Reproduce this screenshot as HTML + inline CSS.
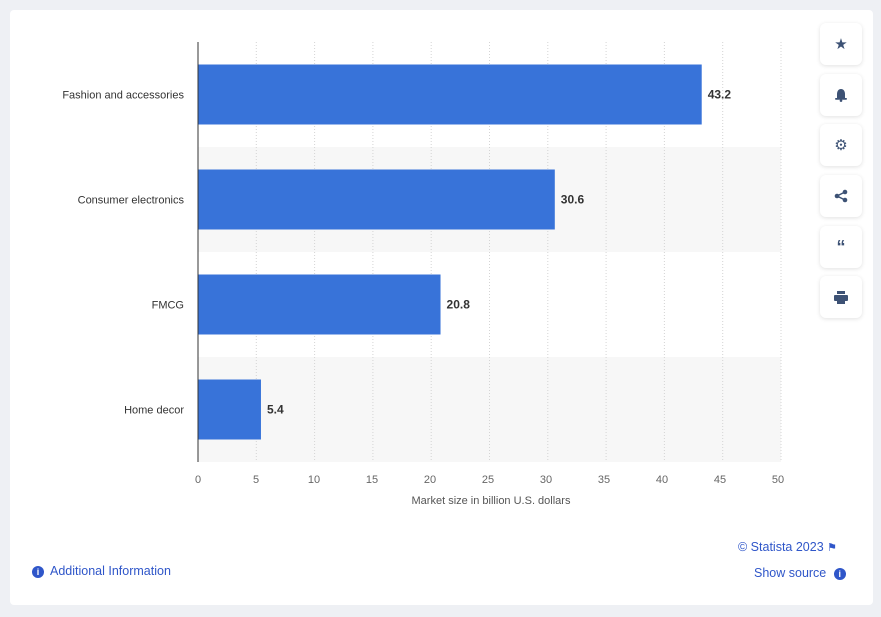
<!DOCTYPE html>
<html><head><meta charset="utf-8"><style>
body{margin:0;width:881px;height:617px;background:#eef0f4;font-family:"Liberation Sans",sans-serif;position:relative;overflow:hidden}
.card{position:absolute;left:10px;top:10px;width:863px;height:595px;background:#fff;border-radius:4px}
.btn{position:absolute;left:820px;width:42px;height:42px;background:#fff;border-radius:6px;box-shadow:0 1px 4px rgba(0,0,0,.12);display:flex;align-items:center;justify-content:center;color:#3d5275;font-size:15px}
.link{position:absolute;color:#2f56c9;font-size:12.5px}
</style></head><body>
<div class="card"></div>
<svg id="chart" width="881" height="617" style="position:absolute;left:0;top:0"></svg>
<div class="btn" style="top:23px">★</div>
<div class="btn" style="top:74px"><svg width="12" height="14"><path d="M6 1C3 1 2 4 2 6V10H10V6C10 4 9 1 6 1Z" fill="#3d5275"/><rect x="0" y="10" width="12" height="1.8" rx="0.9" fill="#3d5275"/><circle cx="6" cy="12.6" r="1.3" fill="#3d5275"/></svg></div>
<div class="btn" style="top:124px">⚙</div>
<div class="btn" style="top:175px"><svg width="14" height="14"><circle cx="11" cy="3" r="2.3" fill="#3d5275"/><circle cx="3" cy="7" r="2.3" fill="#3d5275"/><circle cx="11" cy="11" r="2.3" fill="#3d5275"/><path d="M11 3L3 7L11 11" stroke="#3d5275" stroke-width="1.5" fill="none"/></svg></div>
<div class="btn" style="top:226px;font-weight:bold;font-size:18px">“</div>
<div class="btn" style="top:276px"><svg width="14" height="13"><rect x="3" y="0" width="8" height="3" fill="#3d5275"/><rect x="0" y="4" width="14" height="6" rx="1" fill="#3d5275"/><rect x="3" y="8" width="8" height="5" fill="#3d5275"/></svg></div>
<div class="link" style="left:32px;top:564px"><span style="display:inline-block;width:12px;height:12px;border-radius:50%;background:#2f56c9;color:#fff;font-size:9px;text-align:center;line-height:12px;font-weight:bold;margin-right:6px">i</span>Additional Information</div>
<div class="link" style="left:738px;top:540px">© Statista 2023 <span style="font-size:11px">⚑</span></div>
<div class="link" style="left:754px;top:566px">Show source <span style="display:inline-block;width:12px;height:12px;border-radius:50%;background:#2f56c9;color:#fff;font-size:9px;text-align:center;line-height:12px;font-weight:bold;margin-left:4px">i</span></div>
<script>
const categories=["Fashion and accessories","Consumer electronics","FMCG","Home decor"];
const values=[43.2,30.6,20.8,5.4];
const ticks=[0,5,10,15,20,25,30,35,40,45,50];
const svg=document.getElementById('chart');
const NS='http://www.w3.org/2000/svg';
const x0=198,pxPer=11.66,top0=42,band=105,barH=60;
const X=v=>x0+v*pxPer;
const Y=i=>top0+i*band;
function mk(t,a,p){const e=document.createElementNS(NS,t);for(const k in a)e.setAttribute(k,a[k]);(p||svg).appendChild(e);return e;}
categories.forEach((c,i)=>{if(i%2==1){const r=mk('rect',{x:x0,y:Y(i),width:X(50)-x0,height:band,fill:'#f7f7f7'});

}});
ticks.forEach(t=>{if(t>0){const l=mk('line',{x1:X(t),x2:X(t),y1:top0,y2:Y(4),stroke:'#d4d4d4','stroke-dasharray':'1,2'});

}
const tx=mk('text',{x:X(t)-(t/50)*3,y:483,'text-anchor':'middle','font-size':11,fill:'#666'});tx.textContent=t;

});
categories.forEach((c,i)=>{const cy=Y(i)+band/2;
const b=mk('rect',{x:x0,y:cy-barH/2,width:X(values[i])-x0,height:barH,fill:'#3873d9'});


const lb=mk('text',{x:184,y:cy+4,'text-anchor':'end','font-size':11,fill:'#333'});lb.textContent=c;


const v=mk('text',{x:X(values[i])+6,y:cy+4,'font-size':12,'font-weight':'bold',fill:'#333'});v.textContent=values[i];

});
const ax=mk('line',{x1:x0,x2:x0,y1:top0,y2:Y(4),stroke:'#333','stroke-width':1});


const at=mk('text',{x:491,y:504,'text-anchor':'middle','font-size':11,fill:'#555'});at.textContent='Market size in billion U.S. dollars';


</script>
</body></html>
